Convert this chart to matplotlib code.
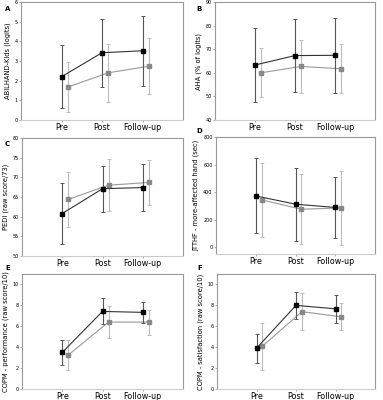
import matplotlib
matplotlib.use("Agg")
import matplotlib.pyplot as plt
import numpy as np

categories = ["Pre", "Post", "Follow-up"]

# Panel A: ABILHAND-Kids
a_black = [2.2, 3.42, 3.52]
a_black_sd = [1.6, 1.72, 1.78]
a_gray = [1.67, 2.4, 2.73]
a_gray_sd = [1.27, 1.46, 1.42]

# Panel B: AHA
b_black = [63.3, 67.3, 67.4]
b_black_sd = [15.5, 15.3, 15.8]
b_gray = [60.0, 62.7, 61.7]
b_gray_sd = [10.4, 11.3, 10.3]

# Panel C: PEDI
c_black = [60.8, 67.1, 67.4]
c_black_sd = [7.8, 5.9, 5.9]
c_gray = [64.4, 68.0, 68.7]
c_gray_sd = [7.0, 6.6, 5.8]

# Panel D: JTTHF
d_black = [372, 312, 288]
d_black_sd = [272, 265, 220]
d_gray = [343, 275, 285]
d_gray_sd = [270, 254, 267]

# Panel E: COPM performance
e_black = [3.5, 7.42, 7.33]
e_black_sd = [1.2, 1.25, 1.02]
e_gray = [3.25, 6.4, 6.4]
e_gray_sd = [1.47, 1.53, 1.2]

# Panel F: COPM satisfaction
f_black = [3.9, 8.0, 7.67]
f_black_sd = [1.4, 1.3, 1.32]
f_gray = [4.1, 7.4, 6.9]
f_gray_sd = [2.25, 1.78, 1.3]

panels = [
    ("A", "ABILHAND-Kids (logits)", a_black, a_black_sd, a_gray, a_gray_sd, (0, 6), np.arange(0, 7, 1)),
    ("B", "AHA (% of logits)", b_black, b_black_sd, b_gray, b_gray_sd, (40, 90), np.arange(40, 91, 10)),
    ("C", "PEDI (raw score/73)", c_black, c_black_sd, c_gray, c_gray_sd, (50, 80), np.arange(50, 81, 5)),
    ("D", "JTTHF - more-affected hand (sec)", d_black, d_black_sd, d_gray, d_gray_sd, (-50, 800), np.arange(0, 801, 200)),
    ("E", "COPM - performance (raw score/10)", e_black, e_black_sd, e_gray, e_gray_sd, (0, 11), np.arange(0, 11, 2)),
    ("F", "COPM - satisfaction (raw score/10)", f_black, f_black_sd, f_gray, f_gray_sd, (0, 11), np.arange(0, 11, 2)),
]

W, H = 383, 400
fig = plt.figure(figsize=(W / 100, H / 100), dpi=100)

# axes boxes in pixels: left, right, top, bottom
boxes = [
    (21, 183, 2, 120),
    (215, 375, 2, 120),
    (22, 183, 138, 256),
    (216, 375, 137, 254),
    (22, 183, 274, 389),
    (217, 375, 274, 389),
]
label_pos = [(5, 9), (196, 9), (5, 144), (196, 131), (5, 268), (197, 268)]

x = np.arange(1, 4)
off = 0.15

for (lab, ylab, bk, bksd, gr, grsd, ylim, yt), (l, r, t, b), (lx, ly) in zip(panels, boxes, label_pos):
    ax = fig.add_axes([l / W, 1 - b / H, (r - l) / W, (b - t) / H])
    ax.errorbar(x + off, gr, yerr=grsd, color="#999999", ecolor="#bbbbbb",
                elinewidth=0.8, capsize=1.6, capthick=0.7, marker="s", markersize=3,
                mfc="#888888", mec="#888888", lw=0.8, zorder=2)
    ax.errorbar(x, bk, yerr=bksd, color="#333333", ecolor="#555555",
                elinewidth=0.8, capsize=1.6, capthick=0.7, marker="s", markersize=3,
                mfc="black", mec="black", lw=0.8, zorder=3)
    ax.set_xlim(0, 4)
    ax.set_ylim(*ylim)
    ax.set_xticks(x)
    ax.set_xticklabels(categories, fontsize=5.8)
    ax.set_yticks(yt)
    ax.set_yticklabels([str(v) for v in yt], fontsize=3.5)
    ax.tick_params(axis="x", length=1.5, width=0.5, pad=1, colors="#888888", labelcolor="black")
    ax.tick_params(axis="y", length=1.5, width=0.5, pad=1, colors="#888888", labelcolor="black")
    ax.set_ylabel(ylab, fontsize=4.9, labelpad=2.5)
    for s in ["top", "right", "left"]:
        ax.spines[s].set_color("#999999")
        ax.spines[s].set_linewidth(0.8)
    ax.spines["bottom"].set_color("#cccccc")
    ax.spines["bottom"].set_linewidth(0.8)
    fig.text(lx / W, 1 - ly / H, lab, fontsize=5, fontweight="bold", ha="left", va="center")

fig.savefig("out.png", dpi=100)
